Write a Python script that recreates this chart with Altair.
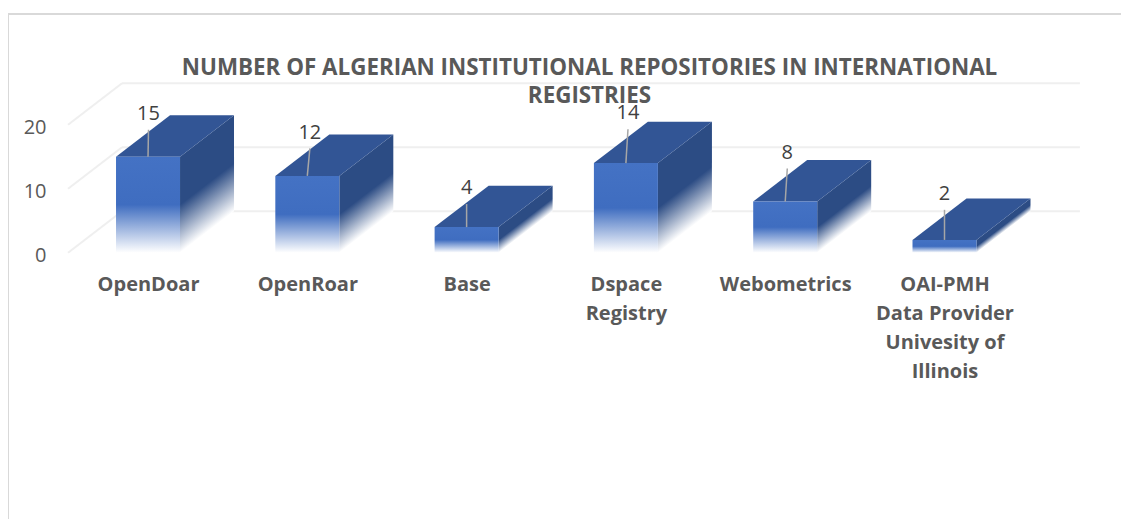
import json
import altair as alt
import pandas as pd

# ---- chart values ----
CATEGORIES = ["OpenDoar", "OpenRoar", "Base", "Dspace\nRegistry", "Webometrics",
              "OAI-PMH\nData Provider\nUnivesity of\nIllinois"]
VALUES = [15, 12, 4, 14, 8, 2]
Y_TICKS = [0, 10, 20]
TITLE_LINES = ["NUMBER OF ALGERIAN INSTITUTIONAL REPOSITORIES IN INTERNATIONAL", "REGISTRIES"]
LEADER_LEAN = [0.003, 0.016, 0.0, 0.013, 0.013, 0.0]
LEADER_RISE = [4.22, 4.3, 3.6, 5.3, 5.15, 4.7]

# ---- 3D projection, in scale units ----
HALF = 0.2009     # half of a bar's front face (category units)
DEPTH_X = 0.339   # receding offset, category units
DEPTH_Y = 6.48    # receding offset, value units
LABEL_GAP = 2.45
WALL_L = -0.502
WALL_R = 5.85

W, H = 1113, 511
x_scale = alt.Scale(domain=[-0.879, 6.108], range=[0, W], nice=False, zero=False)
y_scale = alt.Scale(domain=[-41.61, 38.234], range=[H, 0], nice=False, zero=False)

labels_expr = "[" + ",".join(json.dumps(c.split("\n")) for c in CATEGORIES) + "][datum.value]"
x_axis = alt.Axis(values=list(range(len(CATEGORIES))), labelExpr=labels_expr, title=None, domain=False,
                  ticks=False, grid=False, labelFont="Open Sans", labelFontWeight="bold", labelFontSize=20,
                  labelColor="#595959", labelLineHeight=29, labelAlign="center", labelBaseline="top",
                  labelPadding=22, labelOverlap=False, labelFlush=False, labelBound=False,
                  offset=-(H - 244.7))
y_axis = alt.Axis(values=Y_TICKS, title=None, domain=False, ticks=False, grid=False, labelFont="Open Sans",
                  labelFontSize=20, labelColor="#595959", labelPadding=0, labelOffset=3, offset=-38,
                  labelBound=False, labelFlush=False)


def X(f):
    return alt.X(f, type="quantitative", scale=x_scale, axis=x_axis)


def Y(f):
    return alt.Y(f, type="quantitative", scale=y_scale, axis=y_axis)


bars = pd.DataFrame({
    "i": range(len(VALUES)), "v": VALUES, "lean": LEADER_LEAN, "rise": LEADER_RISE, "zero": [0] * len(VALUES)
})
bars["x0"] = bars.i - HALF
bars["x1"] = bars.i + HALF
bars["ltop"] = bars.v + bars.rise
bars["ltx"] = bars.i + bars.lean
bars["lab"] = bars.ltop + LABEL_GAP

FRONT = "#4472C4"
TOP = "#325595"
SIDE = "#2C4C84"

front_grad = alt.Gradient(gradient="linear", x1=0, x2=0, y1=0, y2=1, stops=[
    alt.GradientStop(color=FRONT, offset=0),
    alt.GradientStop(color="#3F6DC0", offset=0.5),
    alt.GradientStop(color="#FFFFFF", offset=1),
])

# gridlines
grid_rows = pd.DataFrame({"t": Y_TICKS})
grid_rows["yb"] = grid_rows.t + DEPTH_Y
grid_rows["xl"] = WALL_L
grid_rows["xb"] = WALL_L + DEPTH_X
grid_rows["xr"] = WALL_R
GRID = "#EFEFEF"
grid_side = alt.Chart(grid_rows).mark_rule(color=GRID, strokeWidth=2).encode(
    x=X("xl"), x2="xb", y=Y("t"), y2="yb")
grid_back = alt.Chart(grid_rows).mark_rule(color=GRID, strokeWidth=2).encode(
    x=X("xb"), x2="xr", y=Y("yb"))

layers = [grid_side, grid_back]

# side faces: each with a gradient sheared along the receding edge
for i, v in enumerate(VALUES):
    x1 = i + HALF
    side = pd.DataFrame({
        "x": [x1, x1 + DEPTH_X],
        "lo": [0, DEPTH_Y],
        "hi": [v, v + DEPTH_Y],
    })
    r = DEPTH_Y / (v + DEPTH_Y)
    k = (1 - r) / (1 + r * r)
    grad = alt.Gradient(gradient="linear", x1=0, y1=r, x2=k * r, y2=r + k, stops=[
        alt.GradientStop(color=SIDE, offset=0),
        alt.GradientStop(color=SIDE, offset=0.5),
        alt.GradientStop(color="#FFFFFF", offset=1),
    ])
    layers.append(alt.Chart(side).mark_area(fill=grad, line=False).encode(
        x=X("x"), y=Y("lo"), y2="hi"))

# top faces
top_rows = []
for i, v in enumerate(VALUES):
    a, b = i - HALF, i + HALF
    top_rows += [
        {"bar": i, "x": a, "lo": v, "hi": v},
        {"bar": i, "x": a + DEPTH_X, "lo": v, "hi": v + DEPTH_Y},
        {"bar": i, "x": b, "lo": v, "hi": v + DEPTH_Y},
        {"bar": i, "x": b + DEPTH_X, "lo": v + DEPTH_Y, "hi": v + DEPTH_Y},
    ]
layers.append(alt.Chart(pd.DataFrame(top_rows)).mark_area(color=TOP, line=False).encode(
    x=X("x"), y=Y("lo"), y2="hi", detail="bar:N"))

# front faces
layers.append(alt.Chart(bars).mark_rect(fill=front_grad).encode(
    x=X("x0"), x2="x1", y=Y("v"), y2="zero"))

# leader lines and labels
layers.append(alt.Chart(bars).mark_rule(color="#A6A6A6", strokeWidth=1.5).encode(
    x=X("i"), x2="ltx", y=Y("v"), y2="ltop"))
layers.append(alt.Chart(bars).mark_text(font="Open Sans", fontSize=20, color="#404040", baseline="middle").encode(
    x=X("ltx"), y=Y("lab"), text="v:Q"))

# outer frame
FRAME = "#D9D9D9"
layers.append(alt.Chart(pd.DataFrame({"a": [0]})).mark_rule(color=FRAME, strokeWidth=2).encode(
    x=alt.value(0), y=alt.value(6), y2=alt.value(H)))
layers.append(alt.Chart(pd.DataFrame({"a": [0]})).mark_rule(color=FRAME, strokeWidth=2).encode(
    x=alt.value(0), x2=alt.value(W), y=alt.value(6)))

chart = alt.layer(*layers).properties(
    width=W, height=H,
    padding=0,
    autosize=alt.AutoSizeParams(type="none"),
    title=alt.TitleParams(text=TITLE_LINES, anchor="middle", frame="group", dx=25, dy=103, font="Open Sans",
                          fontSize=22.4, fontWeight="bold", color="#595959", lineHeight=28, baseline="top"),
).configure_view(stroke=None)

chart.save("out.html", embed_options={"renderer": "svg", "actions": False})
